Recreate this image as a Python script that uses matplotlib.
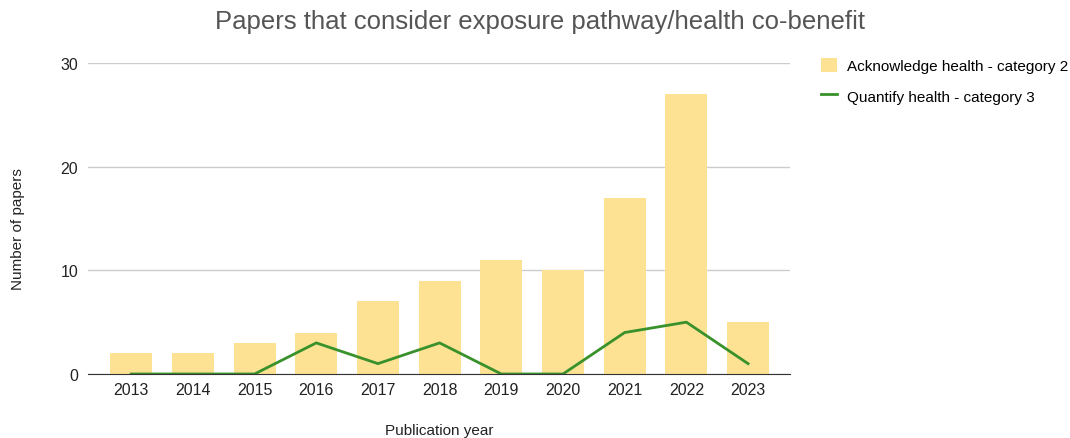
import matplotlib
matplotlib.use('Agg')
import matplotlib.pyplot as plt

years = ['2013', '2014', '2015', '2016', '2017', '2018', '2019', '2020', '2021', '2022', '2023']
acknowledge = [2, 2, 3, 4, 7, 9, 11, 10, 17, 27, 5]
quantify = [0, 0, 0, 3, 1, 3, 0, 0, 4, 5, 1]

plt.rcParams['font.family'] = ['Liberation Sans', 'DejaVu Sans']

fig = plt.figure(figsize=(10.7, 4.39), dpi=100)
ax = fig.add_axes([88 / 1070, 1 - 375 / 439, 702 / 1070, 311 / 439])

x = list(range(len(years)))
bars = ax.bar(x, acknowledge, width=0.68, color='#fde293', label='Acknowledge health - category 2', zorder=2)
line, = ax.plot(x, quantify, color='#38912a', linewidth=2, label='Quantify health - category 3', zorder=3)

ax.set_xlim(-0.7, 10.68)
ax.set_ylim(0, 30)
ax.set_yticks([0, 10, 20, 30])
ax.set_xticks(x)
ax.set_xticklabels(years)
ax.grid(axis='y', color='#cccccc', linewidth=1, zorder=0)
for s in ['top', 'right', 'left']:
    ax.spines[s].set_visible(False)
ax.spines['bottom'].set_color('#333333')
ax.spines['bottom'].set_zorder(4)
ax.tick_params(axis='both', length=0, labelsize=11.5, colors='#222222')
ax.tick_params(axis='x', pad=6)
ax.tick_params(axis='y', pad=7)

ax.set_xlabel('Publication year', fontsize=11, color='#222222', va='center')
ax.xaxis.set_label_coords(0.5, (375 - 431) / 311)
ax.set_ylabel('Number of papers', fontsize=11, color='#222222', va='center')
ax.yaxis.set_label_coords((18 - 88) / 702, 0.47)

fig.text(0.505, 1 - 22 / 439, 'Papers that consider exposure pathway/health co-benefit',
         fontsize=18.5, color='#555555', ha='center', va='center')

ax.legend([bars, line], [bars.get_label(), line.get_label()],
          loc='upper left', bbox_to_anchor=(1.025, 1.06), frameon=False, fontsize=11,
          handlelength=1.0, handleheight=1.0, handletextpad=0.7, labelspacing=1.0)

fig.savefig('out.png', dpi=100)
